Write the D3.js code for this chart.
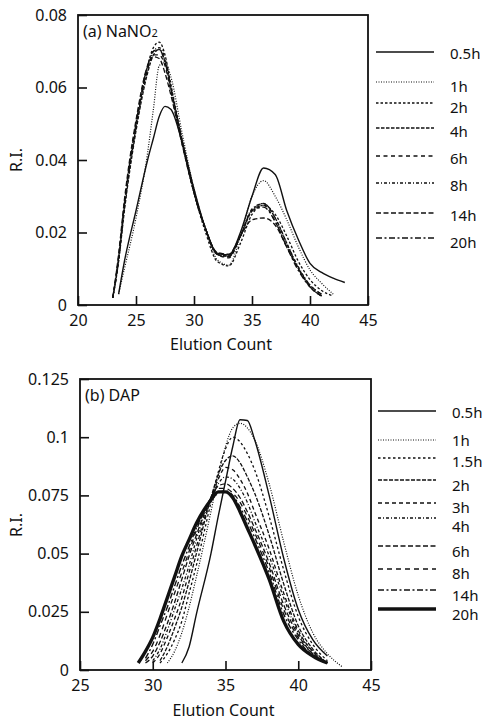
<!DOCTYPE html>
<html>
<head>
<meta charset="utf-8">
<script src="https://cdn.jsdelivr.net/npm/d3@7"></script>
<style>
	body { margin: 0; background: #fff; }
	svg { display: block; }
	text { font-family: 'Noto Sans', sans-serif; fill: #111; }
</style>
</head>
<body>
<svg id="chart" width="489" height="722"></svg>
<script>
// ---- panel (a) NaNO2 ----
var aTimes = ['0.5h', '1h', '2h', '4h', '6h', '8h', '14h', '20h'];
var aCount = [23, 23.5, 24, 25, 26, 26.5, 27, 27.5, 28, 29, 30, 31, 32, 33, 34, 35, 36, 37, 38, 39, 40, 41, 42, 43];
var a05h = [null, 0.003, 0.012, 0.026, 0.040, 0.046, 0.052, 0.0548, 0.054, 0.0446, 0.032, 0.021, 0.0143, 0.0138, 0.020, 0.030, 0.0378, 0.036, 0.026, 0.018, 0.0115, 0.009, 0.0074, 0.0062];
var a1h = [null, 0.003, 0.010, 0.024, 0.042, 0.054, 0.066, 0.067, 0.063, 0.047, 0.032, 0.021, 0.0125, 0.011, 0.019, 0.030, 0.0343, 0.030, 0.0235, 0.016, 0.0097, 0.006, 0.003, null];
var a2h = [0.002, 0.013, 0.027, 0.049, 0.066, 0.071, 0.0725, 0.069, 0.061, 0.045, 0.031, 0.020, 0.012, 0.0108, 0.017, 0.025, 0.0275, 0.025, 0.019, 0.012, 0.007, 0.004, 0.0025, null];
var a4h = [0.002, 0.012, 0.026, 0.048, 0.064, 0.069, 0.0705, 0.067, 0.060, 0.045, 0.031, 0.021, 0.014, 0.0135, 0.019, 0.026, 0.028, 0.024, 0.017, 0.010, 0.005, 0.0025, null, null];
var a6h = [0.002, 0.013, 0.028, 0.050, 0.065, 0.069, 0.069, 0.066, 0.059, 0.044, 0.031, 0.021, 0.014, 0.013, 0.019, 0.026, 0.0275, 0.023, 0.016, 0.010, 0.005, 0.0025, null, null];
var a8h = [0.002, 0.012, 0.027, 0.049, 0.065, 0.070, 0.071, 0.068, 0.060, 0.045, 0.031, 0.021, 0.014, 0.0135, 0.019, 0.0265, 0.028, 0.024, 0.017, 0.0105, 0.0055, 0.003, null, null];
var a14h = [0.002, 0.014, 0.029, 0.051, 0.066, 0.0685, 0.068, 0.064, 0.058, 0.044, 0.031, 0.021, 0.0145, 0.014, 0.019, 0.0235, 0.024, 0.022, 0.016, 0.010, 0.0055, 0.003, null, null];
var a20h = [0.002, 0.013, 0.028, 0.050, 0.066, 0.070, 0.0705, 0.067, 0.060, 0.045, 0.031, 0.021, 0.014, 0.0133, 0.019, 0.026, 0.027, 0.023, 0.016, 0.0095, 0.005, 0.0025, null, null];
var aXTicks = [20, 25, 30, 35, 40, 45];
var aYTicks = [0, 0.02, 0.04, 0.06, 0.08];
var aYLabels = ['0', '0.02', '0.04', '0.06', '0.08'];

// ---- panel (b) DAP ----
var bTimes = ['0.5h', '1h', '1.5h', '2h', '3h', '4h', '6h', '8h', '14h', '20h'];
var bCount = [29, 29.5, 30, 30.5, 31, 31.5, 32, 32.5, 33, 34, 34.5, 35, 35.5, 36, 36.5, 37, 38, 39, 40, 41, 42, 43];
var b05h = [null, null, null, null, null, null, 0.003, 0.010, 0.024, 0.050, 0.066, 0.081, 0.096, 0.1075, 0.1072, 0.099, 0.075, 0.048, 0.026, 0.013, 0.006, null];
var b1h = [null, null, null, null, 0.003, 0.008, 0.016, 0.027, 0.040, 0.068, 0.083, 0.096, 0.104, 0.106, 0.104, 0.099, 0.080, 0.055, 0.032, 0.016, 0.007, 0.0015];
var b15h = [null, null, null, 0.003, 0.007, 0.013, 0.021, 0.033, 0.045, 0.072, 0.085, 0.095, 0.100, 0.098, 0.093, 0.086, 0.066, 0.043, 0.023, 0.011, 0.004, null];
var b2h = [null, null, null, 0.004, 0.010, 0.018, 0.027, 0.038, 0.050, 0.074, 0.084, 0.090, 0.092, 0.089, 0.083, 0.076, 0.058, 0.037, 0.019, 0.009, 0.003, null];
var b3h = [null, null, 0.003, 0.007, 0.014, 0.022, 0.031, 0.042, 0.053, 0.074, 0.082, 0.087, 0.086, 0.082, 0.076, 0.068, 0.052, 0.033, 0.017, 0.008, 0.003, null];
var b4h = [null, null, 0.004, 0.009, 0.017, 0.026, 0.035, 0.045, 0.056, 0.074, 0.080, 0.083, 0.082, 0.078, 0.072, 0.064, 0.049, 0.031, 0.016, 0.008, 0.003, null];
var b6h = [null, 0.003, 0.006, 0.012, 0.020, 0.029, 0.039, 0.049, 0.058, 0.074, 0.079, 0.080, 0.078, 0.074, 0.068, 0.061, 0.046, 0.028, 0.015, 0.007, 0.003, null];
var b8h = [null, 0.004, 0.008, 0.015, 0.024, 0.033, 0.042, 0.051, 0.060, 0.074, 0.078, 0.078, 0.076, 0.072, 0.066, 0.059, 0.044, 0.026, 0.014, 0.007, 0.003, null];
var b14h = [null, 0.005, 0.011, 0.019, 0.027, 0.036, 0.045, 0.053, 0.061, 0.073, 0.076, 0.077, 0.075, 0.070, 0.064, 0.057, 0.042, 0.024, 0.013, 0.006, 0.003, null];
var b20h = [0.003, 0.008, 0.014, 0.022, 0.031, 0.040, 0.049, 0.056, 0.063, 0.073, 0.0765, 0.0765, 0.074, 0.068, 0.061, 0.054, 0.039, 0.021, 0.011, 0.006, 0.003, null];
var bXTicks = [25, 30, 35, 40, 45];
var bYTicks = [0, 0.025, 0.05, 0.075, 0.1, 0.125];
var bYLabels = ['0', '0.025', '0.05', '0.075', '0.1', '0.125'];

var svg = d3.select('#chart');

function drawPanel(p) {
	var x = d3.scaleLinear().domain(p.xDomain).range([p.left, p.left + p.width]),
		y = d3.scaleLinear().domain(p.yDomain).range([p.top + p.height, p.top]);

	var g = svg.append('g');

	// curves
	var line = d3.line()
		.defined(function(d) { return d[1] !== null; })
		.x(function(d) { return x(d[0]); })
		.y(function(d) { return y(d[1]); })
		.curve(d3.curveMonotoneX);

	p.series.forEach(function(vals, i) {
		var pts = p.counts.map(function(c, j) { return [c, vals[j]]; });
		g.append('path')
			.attr('d', line(pts))
			.attr('fill', 'none')
			.attr('stroke', '#111')
			.attr('stroke-width', p.styles[i].w)
			.attr('stroke-dasharray', p.styles[i].dash);
	});

	// axes, ticks pointing inward
	var xAxis = g.append('g')
		.attr('transform', 'translate(0,' + (p.top + p.height) + ')')
		.call(d3.axisBottom(x).tickValues(p.xTicks).tickSizeInner(-9).tickSizeOuter(0).tickPadding(10));
	var yAxis = g.append('g')
		.attr('transform', 'translate(' + p.left + ',0)')
		.call(d3.axisLeft(y).tickValues(p.yTicks).tickSizeInner(-9).tickSizeOuter(0).tickPadding(11)
			.tickFormat(function(d, i) { return p.yLabels[i]; }));
	[xAxis, yAxis].forEach(function(a) {
		a.select('.domain').remove();
		a.selectAll('line').attr('stroke', '#111').attr('stroke-width', 1.6);
		a.selectAll('text').style('font-size', '16px').attr('fill', '#111');
	});

	// frame
	g.append('rect')
		.attr('x', p.left).attr('y', p.top)
		.attr('width', p.width).attr('height', p.height)
		.attr('fill', 'none').attr('stroke', '#111').attr('stroke-width', 1.8);

	// titles
	g.append('text')
		.attr('x', p.left + p.width / 2 - 2)
		.attr('y', p.xTitleY)
		.attr('text-anchor', 'middle')
		.style('font-size', '16px')
		.text('Elution Count');
	g.append('text')
		.attr('transform', 'translate(22,' + p.yTitleY + ') rotate(-90)')
		.attr('text-anchor', 'middle')
		.style('font-size', '16px')
		.text('R.I.');

	var lab = g.append('text')
		.attr('x', p.left + 5)
		.attr('y', p.top + 22)
		.style('font-size', '16px')
		.text(p.label);
	if (p.sub) lab.append('tspan').style('font-size', '11px').text(p.sub);

	// legend
	var leg = g.append('g');
	p.times.forEach(function(t, i) {
		var ly = p.legendY[i];
		leg.append('line')
			.attr('x1', p.legendX).attr('x2', p.legendX + 58)
			.attr('y1', ly).attr('y2', ly)
			.attr('stroke', '#111')
			.attr('stroke-width', p.styles[i].w)
			.attr('stroke-dasharray', p.styles[i].dash);
		leg.append('text')
			.attr('x', p.legendX + 74)
			.attr('y', p.legendTextY[i])
			.attr('dominant-baseline', 'central')
			.style('font-size', '15px')
			.text(t);
	});
}

drawPanel({
	left: 78, top: 15, width: 290, height: 290,
	xDomain: [20, 45], yDomain: [0, 0.08],
	xTicks: aXTicks, yTicks: aYTicks, yLabels: aYLabels,
	counts: aCount,
	series: [a05h, a1h, a2h, a4h, a6h, a8h, a14h, a20h],
	times: aTimes,
	styles: [
		{w: 1.4, dash: null},
		{w: 1.2, dash: '1,1.5'},
		{w: 1.3, dash: '2.5,2'},
		{w: 1.3, dash: '3.5,1.5'},
		{w: 1.3, dash: '4,3.5'},
		{w: 1.3, dash: '3,2,1,2'},
		{w: 1.3, dash: '5,2.5'},
		{w: 1.4, dash: '6,2.5,2,2.5'}
	],
	legendX: 376,
	legendY: [52, 82, 103, 128, 156, 183, 213, 238],
	legendTextY: [53, 86, 107, 131, 158, 185, 215, 242],
	xTitleY: 350, yTitleY: 160,
	label: '(a) NaNO', sub: '2'
});

drawPanel({
	left: 80, top: 379, width: 291, height: 291,
	xDomain: [25, 45], yDomain: [0, 0.125],
	xTicks: bXTicks, yTicks: bYTicks, yLabels: bYLabels,
	counts: bCount,
	series: [b05h, b1h, b15h, b2h, b3h, b4h, b6h, b8h, b14h, b20h],
	times: bTimes,
	styles: [
		{w: 1.4, dash: null},
		{w: 1.2, dash: '1,1.5'},
		{w: 1.3, dash: '2.5,2.5'},
		{w: 1.3, dash: '4,1.5'},
		{w: 1.3, dash: '4,3'},
		{w: 1.3, dash: '3,2,1,2'},
		{w: 1.3, dash: '5,2.5'},
		{w: 1.3, dash: '5,4'},
		{w: 1.4, dash: '6,2.5,2,2.5'},
		{w: 3.4, dash: null}
	],
	legendX: 378,
	legendY: [411, 440, 458, 480, 503, 518, 546, 569, 590, 609],
	legendTextY: [412, 440, 461, 485, 507, 526, 551, 573, 595, 614],
	xTitleY: 716, yTitleY: 525,
	label: '(b) DAP', sub: null
});
</script>
</body>
</html>
